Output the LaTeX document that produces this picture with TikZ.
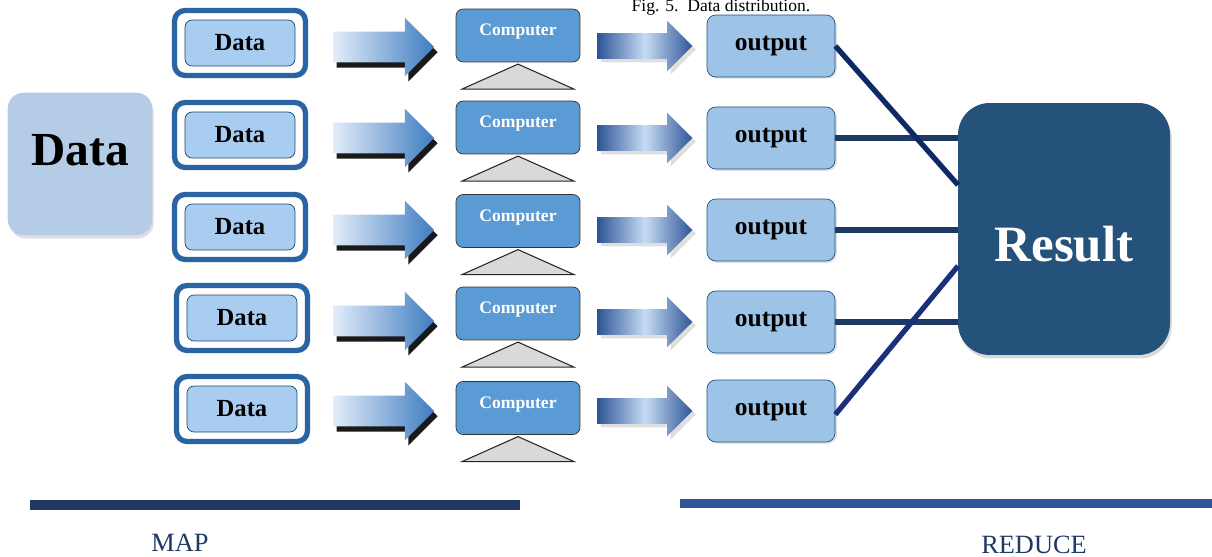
\documentclass[tikz,border=0pt]{standalone}
\usepackage{fontspec}
\setmainfont{Liberation Serif}
\usetikzlibrary{shapes.arrows,shadows}
\definecolor{bigfill}{HTML}{B4CCE6}
\definecolor{dataframe}{HTML}{2B64A3}
\definecolor{datafill}{HTML}{A8CDF0}
\definecolor{compfill}{HTML}{5B9BD5}
\definecolor{outfill}{HTML}{9DC3E6}
\definecolor{resfill}{HTML}{24527A}
\definecolor{navy}{HTML}{1F3864}
\definecolor{deepnavy}{HTML}{0E2A66}
\definecolor{reducebar}{HTML}{2F5597}
\definecolor{paleblue}{HTML}{C6DCF5}
\definecolor{feedend}{HTML}{3F7CC0}
\tikzstyle{bigbox}=[rectangle,rounded corners=9pt,draw=bigfill!80!blue!60,fill=bigfill,minimum width=2.88cm,minimum height=2.84cm,drop shadow={opacity=0.25,shadow xshift=1pt,shadow yshift=-2pt},font=\bfseries\fontsize{27}{27}\selectfont]
\tikzstyle{frame}=[rectangle,rounded corners=6pt,draw=dataframe,line width=3pt,fill=white,minimum width=2.62cm,minimum height=1.30cm]
\tikzstyle{databox}=[rectangle,rounded corners=4pt,draw=dataframe!70!black,fill=datafill,minimum width=2.2cm,minimum height=0.92cm,inner sep=0pt,font=\bfseries\fontsize{14}{14}\selectfont]
\tikzstyle{feed}=[single arrow,single arrow head extend=0.28cm,inner xsep=0pt,inner ysep=0.3cm,minimum height=2.02cm,left color=paleblue!50!white,right color=feedend,drop shadow={fill=black,opacity=0.9,shadow xshift=2pt,shadow yshift=-3pt}]
\tikzstyle{comp}=[rectangle,rounded corners=4pt,draw=black!80,fill=compfill,text=white,minimum width=2.48cm,minimum height=1.06cm,inner sep=0pt,font=\bfseries\fontsize{10}{10}\selectfont]
\tikzstyle{stand}=[draw=black!85,fill=black!15,line width=0.6pt]
\tikzstyle{pass}=[single arrow,single arrow head extend=0.25cm,inner xsep=0pt,inner ysep=0.25cm,minimum height=1.9cm,left color=reducebar,right color=reducebar,middle color=paleblue,drop shadow={opacity=0.25,shadow xshift=2pt,shadow yshift=-2pt}]
\tikzstyle{outbox}=[rectangle,rounded corners=5pt,draw=dataframe!80!black,fill=outfill,minimum width=2.56cm,minimum height=1.24cm,inner sep=0pt,drop shadow={opacity=0.25,shadow xshift=1pt,shadow yshift=-1pt},font=\bfseries\fontsize{14.5}{14.5}\selectfont]
\tikzstyle{resbox}=[rectangle,rounded corners=18pt,fill=resfill,text=white,minimum width=4.24cm,minimum height=5.04cm,drop shadow={opacity=0.3,shadow xshift=1pt,shadow yshift=-2pt},font=\bfseries\fontsize{29}{29}\selectfont]
\tikzstyle{link}=[draw=navy,line width=3pt]
\tikzstyle{phase}=[text=navy,font=\fontsize{15}{15}\selectfont]

\begin{document}
\begin{tikzpicture}[x=0.02cm,y=-0.02cm]
\useasboundingbox (0,0) rectangle (1212,557);
\clip (0,0) rectangle (1212,557);
\node[anchor=base,font=\fontsize{10}{10}\selectfont] (caption) at (721,12) {Fig. 5.\ \ Data distribution.};
\node[bigbox] (bigdata) at (80,164) {\raisebox{-0.04cm}[0pt][0pt]{Data}};
% one row for each computer
\foreach \i/\dx/\dy/\ay/\cy/\oy in {1/240/43/47/35.5/46, 2/240/135/138/127.5/138, 3/240/227/230/221/230, 4/242/318/321/313.5/322, 5/242/409/411/408/411} {
  \node[frame] (frame\i) at (\dx,\dy) {};
  \node[databox] (data\i) at (frame\i.center) {Data};
  \node[feed] (feed\i) at (376,\ay) {};
  \node[comp] (comp\i) at (518,\cy) {\raisebox{0pt}[0pt][0pt]{Computer}};
  \filldraw[stand] ([yshift=-1pt]comp\i.south) -- ++(56,25) -- ++(-112,0) -- cycle;
  \node[pass] (pass\i) at (638.5,\oy) {};
  \node[outbox] (out\i) at (771,\oy) {output};
}
\node[resbox] (result) at (1064,229) {\raisebox{-0.66cm}[0pt][0pt]{Result}};
\coordinate (r1) at (958,185);
\coordinate (r5) at (958,266);
\draw[link] (out2.east) -- (out2.east -| result.west);
\draw[link] (out3.east) -- (out3.east -| result.west);
\draw[link] (out4.east) -- (out4.east -| result.west);
\draw[link,draw=deepnavy] (out1.east) -- (r1);
\draw[link,draw=navy!85!blue] ([yshift=-2pt]out5.east) -- (r5);
% phase bars
\fill[navy] (30,500) rectangle (520,510);
\fill[reducebar] (680,499) rectangle (1212,508);
\node[phase] (map) at (180,543) {MAP};
\node[phase] (reduce) at (1034,545) {REDUCE};
\end{tikzpicture}
\end{document}
